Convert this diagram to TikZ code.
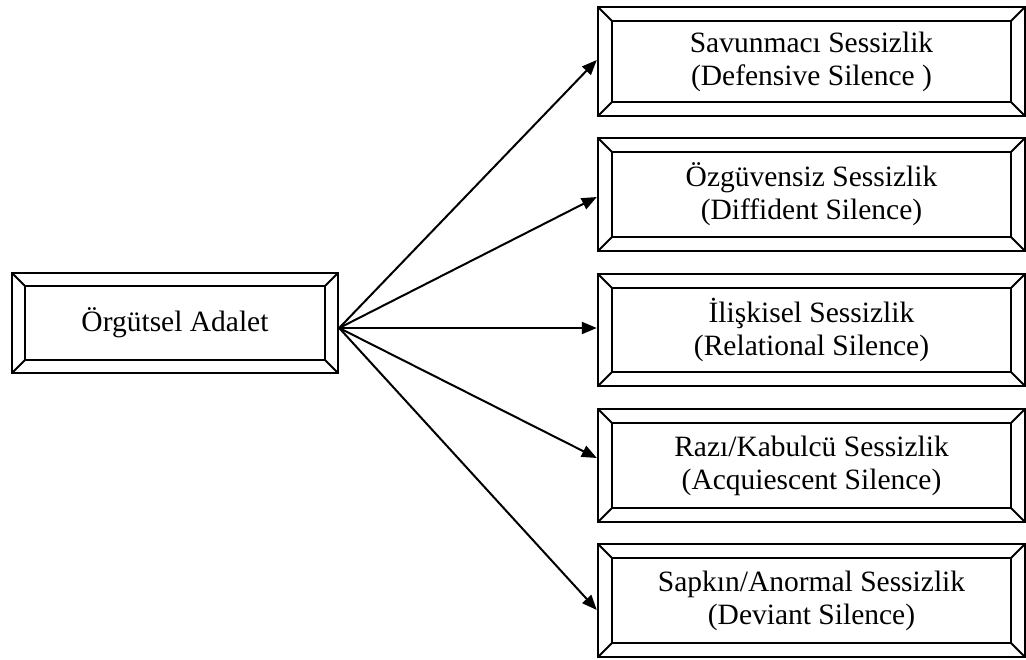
\documentclass[tikz,border=0pt]{standalone}
\usepackage{fontspec}
\setmainfont{Liberation Serif}
\usetikzlibrary{arrows.meta}

\tikzset{
  framebox/.style={
    draw, line width=2.4pt, rectangle, inner sep=0pt, align=center,
    font=\fontsize{29.5}{33}\selectfont,
    path picture={
      \def\bv{#1}
      \coordinate (nw) at (path picture bounding box.north west);
      \coordinate (se) at (path picture bounding box.south east);
      \coordinate (ne) at (path picture bounding box.north east);
      \coordinate (sw) at (path picture bounding box.south west);
      \draw[line width=2.4pt] ([shift={(\bv pt,-\bv pt)}]nw) rectangle ([shift={(-\bv pt,\bv pt)}]se);
      \draw[line width=1.8pt] (nw) -- ++(\bv pt,-\bv pt)
                              (ne) -- ++(-\bv pt,-\bv pt)
                              (sw) -- ++(\bv pt,\bv pt)
                              (se) -- ++(-\bv pt,\bv pt);
    }
  },
  link/.style={line width=2pt, -{Triangle[length=15pt,width=12pt]}}
}

\begin{document}
\begin{tikzpicture}[x=1pt,y=-1pt]
  \useasboundingbox (0,0) rectangle (1026,659);

  % source box
  \node[framebox=13, minimum width=326pt, minimum height=100pt] (src) at (175,323) {Örgütsel Adalet};

  % silence types
  \node[framebox=14, minimum width=427pt, minimum height=109pt] (b1) at (811.5,61.5)
    {Savunmacı Sessizlik\\(Defensive Silence )};
  \node[framebox=14, minimum width=427pt, minimum height=113pt] (b2) at (811.5,194.5)
    {Özgüvensiz Sessizlik\\(Diffident Silence)};
  \node[framebox=14, minimum width=427pt, minimum height=112pt] (b3) at (811.5,330)
    {İlişkisel Sessizlik\\(Relational Silence)};
  \node[framebox=14, minimum width=427pt, minimum height=113pt] (b4) at (811.5,465.5)
    {Razı/Kabulcü Sessizlik\\(Acquiescent Silence)};
  \node[framebox=14, minimum width=427pt, minimum height=113pt] (b5) at (811.5,600.5)
    {Sapkın/Anormal Sessizlik\\(Deviant Silence)};

  % fan of arrows
  \coordinate (o) at ([yshift=-5pt]src.east);
  \draw[link] (o) -- ([yshift=1.5pt]b1.west);
  \draw[link] (o) -- ([yshift=-2.5pt]b2.west);
  \draw[link] (o) -- ([yshift=2pt]b3.west);
  \draw[link] (o) -- ([yshift=7.5pt]b4.west);
  \draw[link] (o) -- ([yshift=-9.5pt]b5.west);
\end{tikzpicture}
\end{document}
